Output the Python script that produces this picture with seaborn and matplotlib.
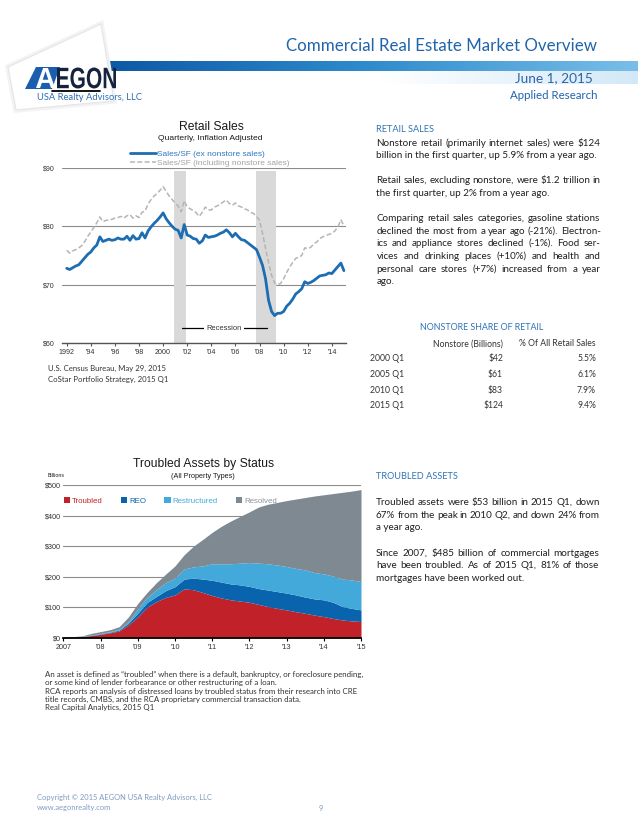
import numpy as np
import pandas as pd
import matplotlib
matplotlib.use("Agg")
import matplotlib.pyplot as plt
from matplotlib.patches import Polygon, Patch, PathPatch
from matplotlib.colors import LinearSegmentedColormap
from matplotlib.textpath import TextPath
from matplotlib.font_manager import FontProperties
from matplotlib.transforms import Affine2D
import seaborn as sns

# ---------------- data ----------------
retail_start_year = 1992
sales_ex_nonstore = [
    72.8, 72.6, 72.9, 73.2,   # 1992
    73.4, 74.0, 74.6, 75.2,   # 1993
    75.6, 76.3, 76.8, 78.2,   # 1994
    77.4, 77.6, 77.8, 77.6,   # 1995
    77.7, 78.0, 77.8, 77.8,   # 1996
    78.3, 77.6, 78.4, 77.8,   # 1997
    77.9, 78.9, 78.0, 79.2,   # 1998
    79.9, 80.5, 81.0, 81.6,   # 1999
    82.3, 81.3, 80.6, 80.0,   # 2000
    79.5, 79.3, 78.0, 80.3,   # 2001
    78.5, 78.3, 77.9, 77.8,   # 2002
    77.1, 77.5, 78.5, 78.1,   # 2003
    78.2, 78.3, 78.5, 78.8,   # 2004
    79.0, 79.4, 78.9, 78.2,   # 2005
    78.8, 78.2, 77.7, 77.6,   # 2006
    77.2, 76.8, 76.4, 76.0,   # 2007
    74.7, 73.3, 71.0, 67.3,   # 2008
    65.4, 64.7, 65.1, 65.1,   # 2009
    65.4, 66.3, 66.8, 67.5,   # 2010
    68.4, 68.8, 69.3, 70.5,   # 2011
    70.2, 70.4, 70.7, 71.1,   # 2012
    71.5, 71.6, 71.7, 72.0,   # 2013
    71.9, 72.5, 73.1, 73.7,   # 2014
    72.4,                     # 2015 Q1
]
sales_incl_nonstore = [
    75.9, 75.4, 75.8, 76.0,   # 1992
    76.3, 76.7, 77.4, 78.3,   # 1993
    79.0, 79.8, 80.6, 81.6,   # 1994
    80.8, 81.0, 81.1, 81.2,   # 1995
    81.4, 81.5, 81.7, 81.4,   # 1996
    81.8, 82.0, 81.4, 81.8,   # 1997
    81.5, 82.4, 82.6, 83.8,   # 1998
    84.6, 85.2, 85.6, 86.2,   # 1999
    86.8, 86.0, 85.2, 84.6,   # 2000
    84.0, 83.5, 82.5, 84.4,   # 2001
    83.3, 83.0, 82.7, 82.3,   # 2002
    81.7, 82.4, 83.3, 82.8,   # 2003
    82.8, 83.3, 83.5, 83.8,   # 2004
    84.2, 84.5, 83.9, 83.6,   # 2005
    84.0, 83.5, 83.3, 83.0,   # 2006
    82.8, 82.4, 82.2, 81.7,   # 2007
    81.0, 78.8, 76.2, 73.8,   # 2008
    71.6, 70.3, 70.0, 70.2,   # 2009
    71.0, 72.1, 73.0, 73.8,   # 2010
    74.5, 74.7, 75.0, 76.3,   # 2011
    76.2, 76.4, 77.0, 77.3,   # 2012
    77.9, 78.2, 78.4, 78.6,   # 2013
    78.8, 79.2, 79.9, 81.1,   # 2014
    80.1,                     # 2015 Q1
]
retail_series_labels = ["Sales/SF (ex nonstore sales)", "Sales/SF (including nonstore sales)"]
recession_start = [2000.92, 2007.70]
recession_end = [2001.92, 2009.40]
retail_xticks = list(range(1992, 2015, 2))
retail_xtick_labels = ["1992", "'94", "'96", "'98", "2000", "'02", "'04", "'06", "'08", "'10", "'12", "'14"]
retail_yticks = [60, 70, 80, 90]
retail_ytick_labels = ["$60", "$70", "$80", "$90"]

troubled_start_year = 2007
troubled = [1, 2, 3, 7, 11, 16, 22, 42, 68, 100, 118, 132, 140, 160, 157, 148, 138,
            130, 124, 120, 116, 109, 102, 96, 91, 85, 80, 74, 69, 63, 58, 55, 53]
reo = [0.3, 0.5, 0.8, 1, 1.5, 2, 3, 6, 12, 15, 17, 22, 27, 32, 38, 44, 50,
       52, 52, 53, 52, 52, 54, 55, 55, 55, 53, 53, 55, 53, 44, 41, 38]
restructured = [0.2, 0.3, 0.5, 1, 1.5, 2, 3, 5, 14, 17, 22, 26, 28, 33, 37, 43, 54,
                60, 66, 71, 78, 83, 86, 87, 87, 87, 89, 86, 85, 86, 90, 93, 93]
resolved = [0.5, 0.7, 1.7, 5, 6, 6, 8, 15, 18, 16, 23, 28, 40, 47, 68, 87, 103,
            123, 140, 153, 166, 184, 195, 205, 216, 227, 237, 251, 259, 270, 284, 291, 301]
status_names = ["Troubled", "REO", "Restructured", "Resolved"]
troubled_xticks = list(range(2007, 2016))
troubled_xtick_labels = ["2007", "'08", "'09", "'10", "'11", "'12", "'13", "'14", "'15"]
troubled_yticks = [0, 100, 200, 300, 400, 500]
troubled_ytick_labels = ["$0", "$100", "$200", "$300", "$400", "$500"]

table_periods = ["2000 Q1", "2005 Q1", "2010 Q1", "2015 Q1"]
table_nonstore = ["$42", "$61", "$83", "$124"]
table_share = ["5.5%", "6.1%", "7.9%", "9.4%"]

retail_text = [
    ("Nonstore retail (primarily internet sales) were $124", True),
    ("billion in the first quarter, up 5.9% from a year ago.", False),
    ("Retail sales, excluding nonstore, were $1.2 trillion in", True),
    ("the first quarter, up 2% from a year ago.", False),
    ("Comparing retail sales categories, gasoline stations", True),
    ("declined the most from a year ago (-21%). Electron-", True),
    ("ics and appliance stores declined (-1%). Food ser-", True),
    ("vices and drinking places (+10%) and health and", True),
    ("personal care stores (+7%) increased from a year", True),
    ("ago.", False),
]
troubled_text = [
    ("Troubled assets were $53 billion in 2015 Q1, down", True),
    ("67% from the peak in 2010 Q2, and down 24% from", True),
    ("a year ago.", False),
    ("Since 2007, $485 billion of commercial mortgages", True),
    ("have been troubled. As of 2015 Q1, 81% of those", True),
    ("mortgages have been worked out.", False),
]
footnotes = [
    "An asset is defined as \u201ctroubled\u201d when there is a default, bankruptcy, or foreclosure pending,",
    "or some kind of lender forbearance or other restructuring of a loan.",
    "RCA reports an analysis of distressed loans by troubled status from their research into CRE",
    "title records, CMBS, and the RCA proprietary commercial transaction data.",
    "Real Capital Analytics, 2015 Q1",
]

# ---------------- styling ----------------
W, H = 638, 826
BLUE_LINE = "#1C6DB2"
GREY_LINE = "#B5B5B5"
status_colors = ["#C1222A", "#0A63AD", "#43A8DA", "#7E8992"]
legend_text_colors = ["#C1222A", "#0A63AD", "#43A8DA", "#8A949C"]
HEAD_BLUE = "#2E74B5"
BODY = ["Lato", "DejaVu Sans"]
CHART = ["Liberation Sans", "DejaVu Sans"]

sns.set_theme(style="white")
plt.rcParams["font.family"] = CHART

fig = plt.figure(figsize=(W / 100, H / 100), dpi=100)
bg = fig.add_axes([0, 0, 1, 1], zorder=-5)
bg.set_xlim(0, W)
bg.set_ylim(H, 0)
bg.axis("off")
R = fig.canvas.get_renderer()


def measure(s, size, family=BODY, weight="normal"):
    t = bg.text(0, 0, s, fontsize=size, family=family, weight=weight)
    w = t.get_window_extent(R).width
    t.remove()
    return w


def fit_size(s, width, size=7, family=BODY, weight="normal"):
    return size * width / measure(s, size, family, weight)


def txt(x, y, s, size, ha="left", color="#231F20", family=BODY, weight="normal",
        width=None, **kw):
    # y is the visual centre of lowercase/caps text; draw on a shared baseline
    if width is not None:
        size = fit_size(s, width, size, family, weight)
    yb = y + 0.36 * size * 100 / 72
    return bg.text(x, yb, s, fontsize=size, ha=ha, va="baseline", color=color,
                   family=family, weight=weight, **kw)


def line(x0, x1, y, s, size, justify, **kw):
    if not justify:
        return txt(x0, y, s, size, **kw)
    words = s.split(" ")
    full = measure(s, size)
    extra = (x1 - x0 - full) / (len(words) - 1)
    for k, w_ in enumerate(words):
        prefix = " ".join(words[:k + 1])
        start = measure(prefix, size) - measure(w_, size)
        txt(x0 + start + k * extra, y, w_, size, **kw)


def path_text(s, x0, x1, ybase, ytop, color, z=5):
    tp = TextPath((0, 0), s, size=100, prop=FontProperties(family="Liberation Sans", weight="bold"))
    ext = tp.get_extents()
    sx = (x1 - x0) / ext.width
    sy = (ybase - ytop) / ext.height
    tr = Affine2D().translate(-ext.x0, -ext.y0).scale(sx, -sy).translate(x0, ybase) + bg.transData
    bg.add_patch(PathPatch(tp, transform=tr, facecolor=color, edgecolor="none", zorder=z))


def px_axes(x0, y0, x1, y1):
    a = fig.add_axes([x0 / W, 1 - y1 / H, (x1 - x0) / W, (y1 - y0) / H])
    a.set_facecolor("none")
    return a


# ---------------- header ----------------
band_cmap = LinearSegmentedColormap.from_list("band", ["#0B56A2", "#2F8BCB", "#79BEE9"])
bg.imshow(np.linspace(0, 1, 256)[None, :], extent=(95, W, 71, 61), cmap=band_cmap,
          aspect="auto", zorder=1, interpolation="bilinear")
strip_cmap = LinearSegmentedColormap.from_list("strip", ["#FFFFFF", "#D3E8F7"])
bg.imshow(np.linspace(0, 1, 256)[None, :], extent=(380, W, 84, 71), cmap=strip_cmap,
          aspect="auto", zorder=1, interpolation="bilinear")
bg.set_xlim(0, W)
bg.set_ylim(H, 0)
card = [(8, 67), (101, 24), (114, 101), (16, 110)]
bg.add_patch(Polygon(card, closed=True, facecolor="none", edgecolor="#F3F3F3", lw=4, zorder=2))
bg.add_patch(Polygon(card, closed=True, facecolor="white", edgecolor="#E6E6E6", lw=0.9, zorder=3))
bg.add_patch(Polygon([(25, 89), (36, 67), (60, 67), (52, 89)], closed=True,
                     facecolor="#1A5FAE", edgecolor="none", zorder=4))
path_text("A", 36, 55, 88, 68, "white")
path_text("EGON", 57, 116, 88.5, 67.5, "#16233F")
bg.plot([52, 100], [91, 91], color="black", lw=1.3, zorder=5)
txt(37, 97, "USA Realty Advisors, LLC", 7, color="#2E6DB4", width=105, zorder=5)

txt(597, 45, "Commercial Real Estate Market Overview", 12, ha="right", color="#2064AC", width=309)
txt(593, 77.5, "June 1, 2015", 9, ha="right", color="#2B66A8", width=78)
txt(597, 95, "Applied Research", 8, ha="right", color="#2064AC", width=88)

# ---------------- retail sales chart ----------------
df_r = pd.DataFrame({
    "t": retail_start_year + np.arange(len(sales_ex_nonstore)) / 4,
    "ex": sales_ex_nonstore,
    "incl": sales_incl_nonstore,
})
ax1 = px_axes(62, 167.5, 345.7, 343)
for s, e in zip(recession_start, recession_end):
    ax1.axvspan(s, e, ymin=0, ymax=0.98, color="#D9D9D9", lw=0, zorder=1)
sns.lineplot(data=df_r, x="t", y="incl", ax=ax1, color=GREY_LINE, lw=1.1, zorder=3)
ax1.lines[-1].set_dashes([3.2, 1.6])
sns.lineplot(data=df_r, x="t", y="ex", ax=ax1, color=BLUE_LINE, lw=2.0, zorder=4)
ax1.set_xlim(1991.61, 2015.15)
ax1.set_ylim(60, 90.08)
ax1.set_xticks(retail_xticks)
ax1.set_xticklabels(retail_xtick_labels)
ax1.set_yticks(retail_yticks)
ax1.set_yticklabels(retail_ytick_labels)
ax1.set_xlabel("")
ax1.set_ylabel("")
ax1.grid(axis="y", color="#8C8C8C", lw=0.8)
ax1.grid(axis="x", visible=False)
ax1.set_axisbelow(True)
for sp in ["top", "right", "left"]:
    ax1.spines[sp].set_visible(False)
ax1.spines["bottom"].set_color("#555555")
ax1.spines["bottom"].set_linewidth(1.0)
ax1.tick_params(axis="x", bottom=True, length=2.5, width=0.8, color="#555555",
                labelsize=5.1, pad=2, labelcolor="#333333")
ax1.tick_params(axis="y", left=False, length=0, labelsize=5.1, pad=5, labelcolor="#333333")
ax1.plot([2001.58, 2008.63], [62.5, 62.5], color="black", lw=0.9, zorder=5)
ax1.text(2005.07, 62.5, "Recession", ha="center", va="center", fontsize=5.4, color="#333333",
         bbox=dict(facecolor="white", edgecolor="none", pad=1.6), zorder=6)

txt(211, 126, "Retail Sales", 9, ha="center", family=CHART, width=65, color="#1A1A1A")
txt(210.5, 137, "Quarterly, Inflation Adjusted", 6, ha="center", family=CHART, width=105,
    color="#1A1A1A")
bg.plot([130, 156], [152.7, 152.7], color=BLUE_LINE, lw=2.0)
bg.plot([130, 156], [162.3, 162.3], color=GREY_LINE, lw=1.1, dashes=[3.2, 1.6])
leg_size = fit_size(retail_series_labels[0], 108, family=CHART)
txt(157, 152.7, retail_series_labels[0], leg_size, family=CHART, color="#2F78BD")
txt(157, 162.3, retail_series_labels[1], leg_size, family=CHART, color="#A3A3A3")

src_size = fit_size("U.S. Census Bureau, May 29, 2015", 118.5)
txt(48, 368.5, "U.S. Census Bureau, May 29, 2015", src_size, color="#333333")
txt(48, 379.5, "CoStar Portfolio Strategy, 2015 Q1", src_size, color="#333333")

# ---------------- troubled assets chart ----------------
t2 = troubled_start_year + np.arange(len(troubled)) / 4
ax2 = px_axes(63.3, 485, 361, 637.7)
ax2.stackplot(t2, troubled, reo, restructured, resolved, colors=status_colors,
              labels=status_names, lw=0, zorder=2)
ax2.set_xlim(2007, 2015)
ax2.set_ylim(0, 500)
ax2.set_xticks(troubled_xticks)
ax2.set_xticklabels(troubled_xtick_labels)
ax2.set_yticks(troubled_yticks)
ax2.set_yticklabels(troubled_ytick_labels)
ax2.grid(axis="y", color="#8C8C8C", lw=0.8)
ax2.grid(axis="x", visible=False)
ax2.set_axisbelow(True)
for sp in ["top", "right", "left"]:
    ax2.spines[sp].set_visible(False)
ax2.spines["bottom"].set_color("black")
ax2.spines["bottom"].set_linewidth(1.3)
ax2.spines["bottom"].set_zorder(5)
ax2.tick_params(axis="x", bottom=True, length=2.5, width=0.8, color="black",
                labelsize=5.2, pad=2, labelcolor="#333333")
ax2.tick_params(axis="y", left=False, length=0, labelsize=5.2, pad=1.5, labelcolor="#333333")
leg = ax2.legend(handles=[Patch(facecolor=c, edgecolor="none", label=n)
                          for c, n in zip(status_colors, status_names)],
                 ncol=4, loc="center left", bbox_to_anchor=(63.5 / W, 1 - 501 / H),
                 bbox_transform=fig.transFigure, frameon=False, fontsize=5.7,
                 handlelength=0.8, handleheight=0.8, handletextpad=0.25,
                 columnspacing=2.3, borderpad=0, borderaxespad=0)
for tx, c in zip(leg.get_texts(), legend_text_colors):
    tx.set_color(c)

txt(204, 463, "Troubled Assets by Status", 9, ha="center", family=CHART, width=142,
    color="#1A1A1A")
txt(202.5, 475.5, "(All Property Types)", 5, ha="center", family=CHART, width=65,
    color="#1A1A1A")
txt(48, 475, "Billions", 5, family=CHART, width=17, color="#1A1A1A")

fn_size = fit_size(footnotes[0], 318)
for s, y in zip(footnotes, [674, 682.5, 691, 699.2, 707.5]):
    txt(45, y, s, fn_size, color="#333333")

# ---------------- right column ----------------
body_size = fit_size(retail_text[1][0], 221)
txt(376.5, 129, "RETAIL SALES", 7, color=HEAD_BLUE, width=57.5)
for (s, j), y in zip(retail_text, [142, 154.5, 179.5, 192, 217.5, 230, 242.5, 255, 268, 280.5]):
    line(376.5, 600.5, y, s, body_size, j)

tab_size = fit_size("% Of All Retail Sales", 77)
txt(420, 327, "NONSTORE SHARE OF RETAIL", 7, color=HEAD_BLUE, width=125)
txt(503, 343, "Nonstore (Billions)", tab_size, ha="right", color="#333333")
txt(596, 343, "% Of All Retail Sales", tab_size, ha="right", color="#333333")
for p, n, sh, y in zip(table_periods, table_nonstore, table_share, [358, 373.5, 389.5, 405]):
    txt(370, y, p, tab_size, color="#333333")
    txt(503, y, n, tab_size, ha="right", color="#333333")
    txt(596, y, sh, tab_size, ha="right", color="#333333")

txt(376, 476, "TROUBLED ASSETS", 7, color=HEAD_BLUE, width=82)
for (s, j), y in zip(troubled_text, [501, 514, 526.5, 552, 564.5, 577]):
    line(376, 599.5, y, s, body_size, j)

# ---------------- footer ----------------
ft_size = fit_size("Copyright \u00a9 2015 AEGON USA Realty Advisors, LLC", 174)
txt(37, 797, "Copyright \u00a9 2015 AEGON USA Realty Advisors, LLC", ft_size, color="#7F9CC0")
txt(37, 807, "www.aegonrealty.com", ft_size, color="#7F9CC0")
txt(319, 808, "9", ft_size, color="#7F9CC0")

fig.savefig("out.png", dpi=100, facecolor="white")
